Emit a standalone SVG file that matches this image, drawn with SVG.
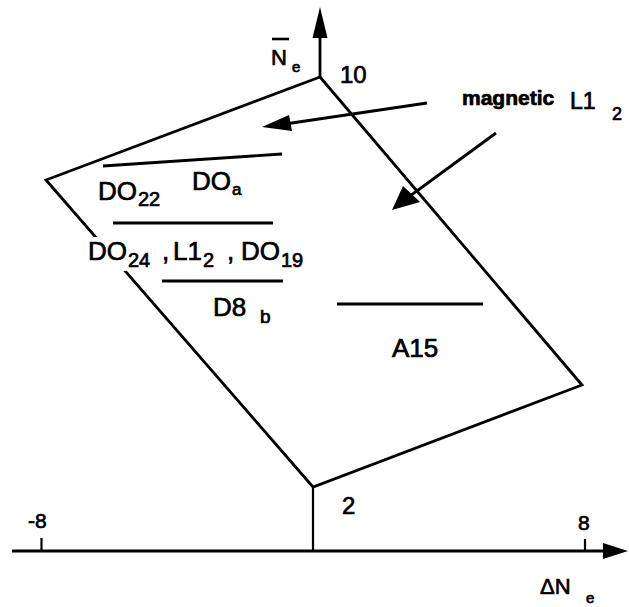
<svg xmlns="http://www.w3.org/2000/svg" width="629" height="607" viewBox="0 0 629 607">
<style>
.ln{fill:none;stroke:#000;stroke-width:2.8;stroke-linejoin:miter;stroke-linecap:butt}
.thin{fill:none;stroke:#000;stroke-width:2.2}
.t{font-family:"Liberation Sans",Arial,sans-serif;fill:#000;stroke:#000;stroke-width:0.7}
.ah{fill:#000;stroke:none}
</style>
<rect width="629" height="607" fill="#fff"/>
<g id="region">
<polygon class="ln" points="320,77 46,180 313,487 582,385"/>
<rect x="84" y="237" width="46" height="34" fill="#fff"/>
</g>
<g id="connectors">
<line class="thin" x1="313" y1="487" x2="313" y2="551"/>
<line class="ln" x1="320" y1="77" x2="320" y2="30"/>
<polygon class="ah" points="320,7 312.5,38 327.5,38"/>
<line class="ln" x1="12" y1="551" x2="608" y2="551"/>
<polygon class="ah" points="628,551 603,543 603,559"/>
<line class="thin" x1="41.5" y1="538" x2="41.5" y2="551"/>
<line class="thin" x1="585" y1="539" x2="585" y2="551"/>
<line class="ln" x1="427" y1="103" x2="285" y2="124"/>
<polygon class="ah" points="262,127 289,115 292,131"/>
<line class="ln" x1="496" y1="133" x2="410" y2="196"/>
<polygon class="ah" points="392,210 403,186 420,202"/>
<line class="ln" x1="103" y1="166" x2="282" y2="154"/>
<line class="ln" x1="113" y1="223" x2="273" y2="223"/>
<line class="ln" x1="162" y1="281" x2="283" y2="281"/>
<line class="ln" x1="337" y1="304" x2="483" y2="304"/>
</g>
<g id="labels">
<text class="t" x="271" y="65" font-size="22">N</text>
<line x1="272" y1="39" x2="289" y2="39" stroke="#000" stroke-width="2.6"/>
<text class="t" x="292" y="72" font-size="15">e</text>
<text class="t" x="340" y="83" font-size="24">10</text>
<text class="t" x="462" y="105" font-size="21" font-weight="bold" stroke-width="0.2">magnetic</text>
<text class="t" x="570" y="109" font-size="23">L1</text>
<text class="t" x="612" y="120" font-size="18">2</text>
<text class="t" x="98" y="200" font-size="26">DO</text>
<text class="t" x="138" y="206" font-size="20">22</text>
<text class="t" x="192" y="190" font-size="26">DO</text>
<text class="t" x="232" y="195" font-size="17">a</text>
<text class="t" x="88" y="260" font-size="26">DO</text>
<text class="t" x="128" y="267" font-size="20">24</text>
<text class="t" x="162" y="260" font-size="26">,</text>
<text class="t" x="173" y="260" font-size="26">L1</text>
<text class="t" x="203" y="267" font-size="20">2</text>
<text class="t" x="227" y="260" font-size="26">,</text>
<text class="t" x="241" y="260" font-size="26">DO</text>
<text class="t" x="281" y="267" font-size="20">19</text>
<text class="t" x="213" y="316" font-size="26">D8</text>
<text class="t" x="260" y="323" font-size="19">b</text>
<text class="t" x="392" y="357" font-size="26">A15</text>
<text class="t" x="342" y="514" font-size="24">2</text>
<text class="t" x="28" y="528" font-size="21">-8</text>
<text class="t" x="578" y="530" font-size="21">8</text>
<text class="t" x="540" y="594" font-size="22">ΔN</text>
<text class="t" x="586" y="603" font-size="15">e</text>
</g>
</svg>
